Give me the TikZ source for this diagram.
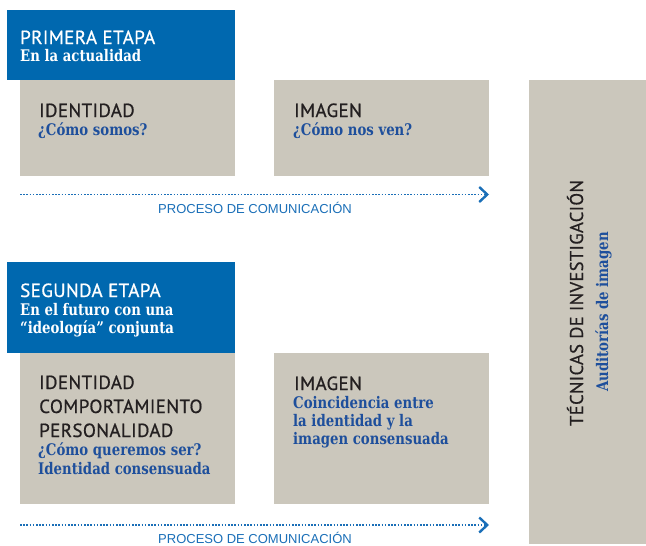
\documentclass[tikz,border=0pt]{standalone}
\usepackage{fontspec}
\usetikzlibrary{arrows.meta}
\setmainfont{DejaVu Serif}
\newfontfamily\headfont[LetterSpace=2,FakeBold=0.7]{PT Sans}
\newfontfamily\subfont[FakeStretch=0.83]{DejaVu Serif}
\newfontfamily\procfont{Liberation Sans}
\definecolor{etBlue}{HTML}{0068AF}
\definecolor{bxGray}{HTML}{CBC7BC}
\definecolor{subBlue}{HTML}{1E4F9C}
\definecolor{arBlue}{HTML}{1A6FB8}
\definecolor{darkT}{HTML}{231F20}
\begin{document}
\begin{tikzpicture}[x=1pt,y=-1pt,
  box/.style={draw=none, anchor=north west, inner sep=0pt, outer sep=0pt},
  bluebox/.style={box, fill=etBlue},
  graybox/.style={box, fill=bxGray},
  head/.style={font=\headfont\fontsize{19}{19}\selectfont, text=darkT, anchor=base west, inner sep=0pt},
  whitehead/.style={head, text=white},
  sub/.style={font=\subfont\bfseries\fontsize{16}{16}\selectfont, text=subBlue, anchor=base west, inner sep=0pt},
  whitesub/.style={sub, text=white},
  proc/.style={font=\procfont\fontsize{13}{13}\selectfont, text=arBlue, anchor=base, inner sep=0pt},
  flow/.style={arBlue, line width=1.8pt, dash pattern=on 1.6pt off 1.6pt,
    -{Straight Barb[length=8pt,width=15pt,line width=2.4pt]}}
]
\useasboundingbox (0,0) rectangle (646,546);
\fill[white] (0,0) rectangle (646,546);

% first stage
\node[graybox, minimum width=215pt, minimum height=96pt] (g1) at (20,80) {};
\node[graybox, minimum width=215pt, minimum height=96pt] (g2) at (274,80) {};
\node[bluebox, minimum width=228pt, minimum height=70pt] (b1) at (7,10) {};
\node[whitehead] (b1a) at (20,44) {PRIMERA ETAPA};
\node[whitesub] (b1b) at (20,61) {En la actualidad};
\node[head] (g1a) at (39,117) {IDENTIDAD};
\node[sub] (g1b) at (38,135) {¿Cómo somos?};
\node[head] (g2a) at (294,117) {IMAGEN};
\node[sub] (g2b) at (293,135) {¿Cómo nos ven?};

\coordinate (a1s) at (20,194.5);
\coordinate (a1e) at (489,194.5);
\draw[flow] (a1s) -- (a1e);
\node[proc] (p1) at (255,213) {PROCESO DE COMUNICACIÓN};

% second stage
\node[graybox, minimum width=215pt, minimum height=151pt] (g3) at (20,353) {};
\node[graybox, minimum width=215pt, minimum height=151pt] (g4) at (274,353) {};
\node[bluebox, minimum width=228pt, minimum height=91pt] (b2) at (7,262) {};
\node[whitehead] (b2a) at (20,297) {SEGUNDA ETAPA};
\node[whitesub] (b2b) at (20,315) {En el futuro con una};
\node[whitesub] (b2c) at (20,333) {“ideología” conjunta};
\node[head] (g3a) at (39,389) {IDENTIDAD};
\node[head] (g3b) at (39,413) {COMPORTAMIENTO};
\node[head] (g3c) at (39,437) {PERSONALIDAD};
\node[sub] (g3d) at (38,455) {¿Cómo queremos ser?};
\node[sub] (g3e) at (38,474) {Identidad consensuada};
\node[head] (g4a) at (294,390) {IMAGEN};
\node[sub] (g4b) at (293,408) {Coincidencia entre};
\node[sub] (g4c) at (293,426) {la identidad y la};
\node[sub] (g4d) at (293,444) {imagen consensuada};

\coordinate (a2s) at (20,525);
\coordinate (a2e) at (489,525);
\draw[flow] (a2s) -- (a2e);
\node[proc] (p2) at (255,543) {PROCESO DE COMUNICACIÓN};

% research techniques
\node[graybox, minimum width=117pt, minimum height=464pt] (t) at (529,80) {};
\node[head, anchor=base, rotate=90, font=\headfont\fontsize{18.5}{18.5}\selectfont] (ta) at (583,303) {TÉCNICAS DE INVESTIGACIÓN};
\node[sub, anchor=base, rotate=90] (tb) at (608,312) {Auditorías de imagen};
\end{tikzpicture}
\end{document}
